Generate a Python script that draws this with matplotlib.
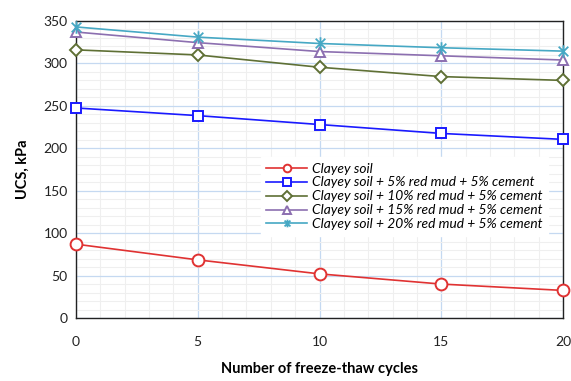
import numpy as np
import matplotlib
matplotlib.use("Agg")
import matplotlib.pyplot as plt
from matplotlib.path import Path
from matplotlib.ticker import MultipleLocator

plt.rcParams['font.family'] = ['Lato', 'DejaVu Sans']

cycles = [0, 5, 10, 15, 20]
labels = ['Clayey soil',
          'Clayey soil + 5% red mud + 5% cement',
          'Clayey soil + 10% red mud + 5% cement',
          'Clayey soil + 15% red mud + 5% cement',
          'Clayey soil + 20% red mud + 5% cement']
ucs_soil = [87, 68.5, 52, 40, 32.5]
ucs_rm5 = [247.5, 238.5, 228, 217.5, 210.5]
ucs_rm10 = [316, 310, 295.5, 284.5, 280]
ucs_rm15 = [337, 324.5, 314, 309, 304]
ucs_rm20 = [343, 331, 323.5, 318.5, 314.5]

# excel style star: X with vertical bar
star = Path([(-1, -1), (1, 1), (-1, 1), (1, -1), (0, -1.3), (0, 1.3)],
            [Path.MOVETO, Path.LINETO, Path.MOVETO, Path.LINETO, Path.MOVETO, Path.LINETO])

styles = [
    dict(color='#e03232', marker='o', ms=8.5, mfc='white', mew=1.4),
    dict(color='#1a1aff', marker='s', ms=7, mfc='white', mew=1.4),
    dict(color='#5f7035', marker='D', ms=6.5, mfc='white', mew=1.4),
    dict(color='#8c6fb0', marker='^', ms=7.5, mfc='white', mew=1.4),
    dict(color='#46a8c4', marker=star, ms=9, mfc='none', mew=1.3),
]
series = [ucs_soil, ucs_rm5, ucs_rm10, ucs_rm15, ucs_rm20]

fig = plt.figure(figsize=(5.71, 3.81), dpi=100)
ax = fig.add_axes([76 / 571, 1 - 318 / 381, 487 / 571, 297 / 381])

for y, lab, st in zip(series, labels, styles):
    ax.plot(cycles, y, lw=1.2, label=lab, clip_on=False, zorder=3, **st)

ax.set_xlim(0, 20)
ax.set_ylim(0, 350)
ax.xaxis.set_major_locator(MultipleLocator(5))
ax.xaxis.set_minor_locator(MultipleLocator(1))
ax.yaxis.set_major_locator(MultipleLocator(50))
ax.yaxis.set_minor_locator(MultipleLocator(10))
ax.grid(which='major', color='#c5d9f1', lw=0.9)
ax.grid(which='minor', color='#efefef', lw=0.8)
ax.set_axisbelow(True)
ax.tick_params(which='both', length=0, labelsize=10, colors='#222222')
ax.tick_params(axis='x', pad=13)
ax.tick_params(axis='y', pad=6)
for s in ax.spines.values():
    s.set_color('#222222')
    s.set_linewidth(1.0)

ax.set_xlabel('Number of freeze-thaw cycles', fontsize=10.5, fontweight='bold', labelpad=10)
ax.set_ylabel('UCS, kPa', fontsize=10.5, fontweight='bold', labelpad=10)

leg = ax.legend(loc='upper left', bbox_to_anchor=(0.365, 0.565), frameon=True,
                fancybox=False, edgecolor='white', framealpha=1,
                prop=dict(family=['Lato', 'DejaVu Sans'], style='italic', size=9.9),
                handlelength=3, labelspacing=0.14, borderpad=0.4, handletextpad=0.3)
for h in leg.legend_handles:
    h.set_markersize(5.5)

fig.savefig('out.png', dpi=100)
